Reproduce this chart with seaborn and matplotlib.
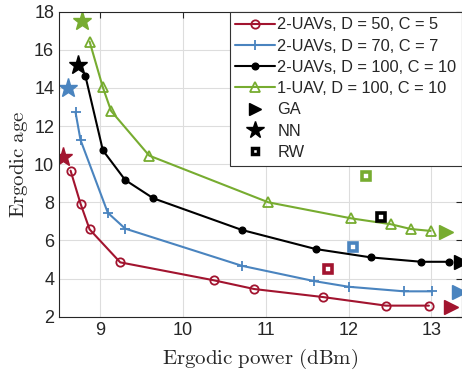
import matplotlib
matplotlib.use("Agg")
import matplotlib.pyplot as plt
import seaborn as sns
import pandas as pd
from matplotlib.lines import Line2D

sns.set_style("white")
plt.rcParams['font.family'] = ['Liberation Sans', 'DejaVu Sans']
plt.rcParams['mathtext.fontset'] = 'cm'

# Data
red_x = [8.64, 8.76, 8.87, 9.24, 10.37, 10.86, 11.69, 12.45, 12.97]
red_y = [9.66, 7.93, 6.58, 4.85, 3.91, 3.45, 3.03, 2.58, 2.58]
blue_x = [8.70, 8.76, 9.09, 9.30, 10.71, 11.58, 12.00, 12.67, 13.01]
blue_y = [12.72, 11.27, 7.45, 6.62, 4.67, 3.87, 3.57, 3.33, 3.33]
black_x = [8.82, 9.03, 9.30, 9.64, 10.71, 11.60, 12.27, 12.88, 13.21]
black_y = [14.61, 10.73, 9.17, 8.21, 6.55, 5.55, 5.11, 4.88, 4.88]
green_x = [8.87, 9.03, 9.13, 9.59, 11.03, 12.03, 12.51, 12.75, 12.99]
green_y = [16.43, 14.03, 12.79, 10.45, 8.00, 7.16, 6.85, 6.60, 6.50]

ga_x = [13.24, 13.33, 13.36, 13.18]
ga_y = [2.52, 3.31, 4.88, 6.46]
nn_x = [8.55, 8.61, 8.73, 8.78]
nn_y = [10.39, 14.02, 15.20, 17.53]
rw_x = [11.75, 12.05, 12.39, 12.21]
rw_y = [4.50, 5.67, 7.21, 9.38]

labels = ["2-UAVs, D = 50, C = 5", "2-UAVs, D = 70, C = 7",
          "2-UAVs, D = 100, C = 10", "1-UAV, D = 100, C = 10"]
colors = ["#A2142F", "#4A84BF", "#000000", "#77AC30"]

fig = plt.figure(figsize=(4.62, 3.75), dpi=100)
ax = fig.add_axes([0.1277, 0.1555, 0.8723, 0.8133])

series = [(red_x, red_y), (blue_x, blue_y), (black_x, black_y), (green_x, green_y)]
mstyles = [
    dict(marker="o", markersize=6, markerfacecolor="none", markeredgewidth=1.3),
    dict(marker="+", markersize=7, markeredgewidth=1.3),
    dict(marker="o", markersize=4.8, markeredgewidth=1.0),
    dict(marker="^", markersize=7, markerfacecolor="none", markeredgewidth=1.3),
]
handles = []
for (xs, ys), lab, c, ms in zip(series, labels, colors, mstyles):
    df = pd.DataFrame({"x": xs, "y": ys})
    sns.lineplot(data=df, x="x", y="y", ax=ax, color=c, sort=False,
                 linewidth=1.5, estimator=None, markeredgecolor=c, **ms)
    handles.append(Line2D([], [], color=c, linewidth=1.5, markeredgecolor=c, **ms))

for i, c in enumerate(colors):
    ax.plot(ga_x[i], ga_y[i], marker=">", markersize=10, color=c, markeredgecolor=c, linestyle="none")
    ax.plot(nn_x[i], nn_y[i], marker="*", markersize=14, color=c, markeredgecolor=c, linestyle="none")
    ax.plot(rw_x[i], rw_y[i], marker="s", markersize=5.2, markerfacecolor="white",
            markeredgecolor=c, markeredgewidth=2.6, linestyle="none")

handles.append(Line2D([], [], color="k", marker=">", markersize=9, linestyle="none"))
handles.append(Line2D([], [], color="k", marker="*", markersize=13, linestyle="none"))
handles.append(Line2D([], [], marker="s", markersize=5, markerfacecolor="white",
                      markeredgecolor="k", markeredgewidth=2.5, linestyle="none"))
leg = ax.legend(handles, labels + ["GA", "NN", "RW"], loc="upper right",
                borderaxespad=0, fontsize=11.8, frameon=True, fancybox=False,
                handlelength=2.4, handletextpad=0.15, labelspacing=0.38,
                borderpad=0.35, framealpha=1)
leg.get_frame().set_edgecolor("#333333")
leg.get_frame().set_linewidth(0.8)

ax.set_xlim(8.5, 13.37)
ax.set_ylim(2, 18)
ax.set_xticks([9, 10, 11, 12, 13])
ax.set_yticks([2, 4, 6, 8, 10, 12, 14, 16, 18])
ax.grid(True, color="#dddddd", linewidth=0.8)
ax.set_axisbelow(True)
ax.tick_params(direction="in", top=True, right=True, labelsize=13, length=4,
               colors="#262626", labelcolor="#262626")
for s in ax.spines.values():
    s.set_color("#262626")
    s.set_linewidth(0.8)
ax.set_xlabel(r"$\mathrm{Ergodic\ power\ (dBm)}$", fontsize=15, labelpad=6)
ax.set_ylabel(r"$\mathrm{Ergodic\ age}$", fontsize=15, labelpad=3)

fig.savefig("out.png", dpi=100)
